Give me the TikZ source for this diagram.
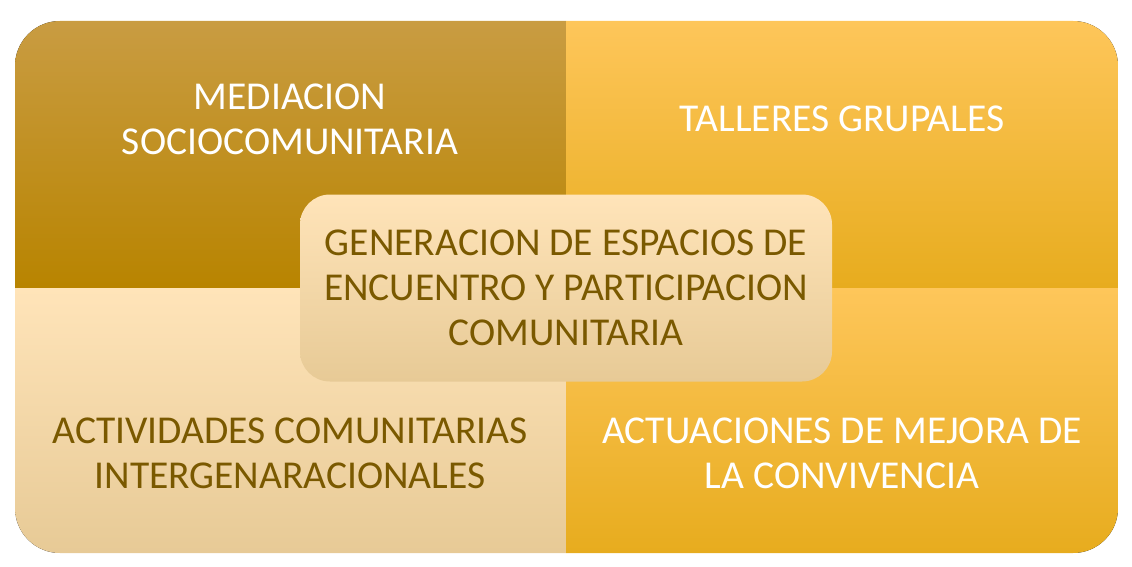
\documentclass[tikz,border=0pt]{standalone}
\usepackage{fontspec}
\setmainfont{Carlito}
\definecolor{tlTop}{RGB}{201,156,66}
\definecolor{tlMid}{RGB}{195,143,0}
\definecolor{tlBot}{RGB}{184,132,0}
\definecolor{orTop}{RGB}{254,198,90}
\definecolor{orMid}{RGB}{253,190,45}
\definecolor{orBot}{RGB}{231,172,30}
\definecolor{ltTop}{RGB}{255,228,185}
\definecolor{ltMid}{RGB}{250,222,175}
\definecolor{ltBot}{RGB}{231,202,150}
\definecolor{brownTxt}{RGB}{122,89,0}
\tikzset{
  lbl/.style={align=center, font=\fontsize{39.5}{45}\selectfont, inner sep=0pt},
  whitelbl/.style={lbl, text=white},
  brownlbl/.style={lbl, text=brownTxt},
}
\begin{document}
\begin{tikzpicture}[x=1pt,y=-1pt]
\useasboundingbox (0,0) rectangle (1132,567);
\begin{scope}
  \clip[rounded corners=45pt] (15,21) rectangle (1118,553);
  \fill[top color=tlTop, middle color=tlMid, bottom color=tlBot] (15,21) rectangle (566,288);
  \fill[top color=orTop, middle color=orMid, bottom color=orBot] (566,21) rectangle (1118,288);
  \fill[top color=ltTop, middle color=ltMid, bottom color=ltBot] (15,288) rectangle (566,553);
  \fill[top color=orTop, middle color=orMid, bottom color=orBot] (566,288) rectangle (1118,553);
\end{scope}
\node[whitelbl] (med) at (290,119) {MEDIACION\\SOCIOCOMUNITARIA};
\node[whitelbl] (tal) at (842,119) {TALLERES GRUPALES};
\node[brownlbl] (act) at (290,453) {ACTIVIDADES COMUNITARIAS\\INTERGENARACIONALES};
\node[whitelbl] (mej) at (842,453) {ACTUACIONES DE MEJORA DE\\LA CONVIVENCIA};
\node[draw=none, rounded corners=30pt, minimum width=532pt, minimum height=187pt,
      top color=ltTop, middle color=ltMid, bottom color=ltBot] (cbox) at (566,288) {};
\node[brownlbl] (cen) at (cbox.center) {GENERACION DE ESPACIOS DE\\ENCUENTRO Y PARTICIPACION\\COMUNITARIA};
\end{tikzpicture}
\end{document}
